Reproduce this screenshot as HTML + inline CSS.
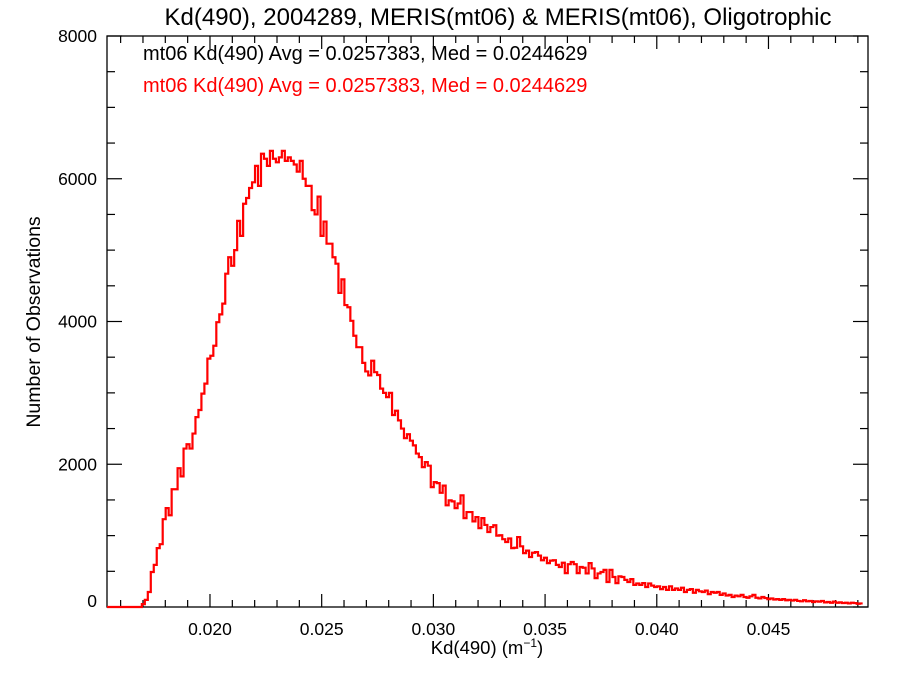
<!DOCTYPE html>
<html><head><meta charset="utf-8"><style>
body{margin:0;background:#fff;}
svg{display:block;font-family:"Liberation Sans",sans-serif;}
</style></head><body>
<svg width="900" height="675" id="chart">
<text x="498" y="25" text-anchor="middle" font-size="24">Kd(490), 2004289, MERIS(mt06) &amp; MERIS(mt06), Oligotrophic</text>
<text x="143" y="60" font-size="20">mt06 Kd(490) Avg = 0.0257383, Med = 0.0244629</text>
<text x="143" y="92" font-size="20" fill="#ff0000">mt06 Kd(490) Avg = 0.0257383, Med = 0.0244629</text>
<text x="487" y="654" text-anchor="middle" font-size="18.5">Kd(490) (m<tspan dy="-7" font-size="12">−1</tspan><tspan dy="7">)</tspan></text>
<text transform="translate(40,322) rotate(-90)" text-anchor="middle" font-size="19.5">Number of Observations</text>
<g id="axes"></g>
<g id="series"></g>
</svg>
<script>
const xTickLabels=["0.020","0.025","0.030","0.035","0.040","0.045"];
const xTickValues=[0.020,0.025,0.030,0.035,0.040,0.045];
const yTickValues=[0,2000,4000,6000,8000];
const binStart=0.01695;
const binWidth=0.00013333;
const counts=[40,100,210,490,590,825,880,1230,1385,1285,1650,1650,1945,1830,2220,2280,2220,2430,2660,2760,2990,3130,3480,3520,3660,3990,4100,4250,4670,4900,4780,5000,5410,5200,5650,5730,5870,5950,6180,5900,6350,6280,6180,6390,6280,6230,6300,6390,6250,6300,6250,6200,6100,6250,6000,5900,5900,5560,5500,5750,5200,5400,5090,5090,4900,4810,4400,4590,4230,4200,4010,3800,3640,3640,3420,3300,3245,3450,3290,3250,3060,3000,2940,3000,2690,2750,2615,2500,2365,2420,2330,2265,2150,2100,1960,2030,1980,1680,1750,1735,1600,1700,1425,1495,1480,1385,1450,1565,1245,1330,1330,1200,1260,1105,1245,1150,1050,1120,1145,1000,1005,950,910,960,825,830,980,850,755,790,700,760,770,720,655,690,615,650,655,590,560,620,475,600,630,600,475,560,550,470,615,540,405,470,490,520,350,520,420,335,430,420,380,350,390,310,330,310,335,280,330,300,280,290,250,280,240,290,240,260,240,270,210,240,250,200,240,220,210,230,180,210,200,210,170,190,160,170,140,160,150,170,140,130,150,170,130,120,140,125,110,120,105,110,100,110,95,100,90,100,85,80,95,80,85,70,80,75,85,65,70,60,75,60,65,55,60,50,60,55,45,50];
const X0=107,X1=868,Y0=607,Y1=36,xmin=0.01539,xmax=0.049455,ymax=8000;
function sx(v){return X0+(v-xmin)/(xmax-xmin)*(X1-X0);}
function sy(v){return Y0-v/ymax*(Y0-Y1);}
const NS="http://www.w3.org/2000/svg";
const axes=document.getElementById('axes');
function mk(tag,attrs,parent){const e=document.createElementNS(NS,tag);for(const k in attrs)e.setAttribute(k,attrs[k]);parent.appendChild(e);return e;}
const frame=mk('rect',{x:X0,y:Y1,width:X1-X0,height:Y0-Y1,fill:'none',stroke:'#000','stroke-width':1.3},axes);


for(let k=16;k<=49;k++){const v=k/1000;const px=sx(v);if(px<X0||px>X1)continue;
 const major=xTickValues.some(t=>Math.abs(t-v)<1e-9);const L=major?13:7;
 const t1=mk('line',{x1:px,x2:px,y1:Y0,y2:Y0-L,stroke:'#000','stroke-width':1.2},axes);
 
 
 const t2=mk('line',{x1:px,x2:px,y1:Y1,y2:Y1+L,stroke:'#000','stroke-width':1.2},axes);
 
 
}
xTickValues.forEach((v,i)=>{const t=mk('text',{x:sx(v),y:Y0+28,'text-anchor':'middle','font-size':17.5},axes);t.textContent=xTickLabels[i];
 
 });
for(let v=0;v<=8000;v+=500){const py=sy(v);const major=v%2000===0;const L=major?15:8;
 const t1=mk('line',{x1:X0,x2:X0+L,y1:py,y2:py,stroke:'#000','stroke-width':1.2},axes);
 
 
 const t2=mk('line',{x1:X1,x2:X1-L,y1:py,y2:py,stroke:'#000','stroke-width':1.2},axes);
 
 
}
yTickValues.forEach(v=>{const t=mk('text',{x:97,y:sy(v)+6-(v===0?6:0),'text-anchor':'end','font-size':17.5},axes);t.textContent=String(v);
 
 });
let d='M'+X0+','+sy(0)+' L'+sx(binStart)+','+sy(0);
counts.forEach((c,i)=>{const xa=sx(binStart+i*binWidth),xb=Math.min(X1,sx(binStart+(i+1)*binWidth));
 d+=' L'+xa.toFixed(2)+','+sy(c).toFixed(2)+' L'+xb.toFixed(2)+','+sy(c).toFixed(2);});
const series=document.getElementById('series');
const p=mk('path',{d:d,fill:'none',stroke:'#ff0000','stroke-width':2.2,'stroke-linejoin':'miter'},series);


</script>
</body></html>
